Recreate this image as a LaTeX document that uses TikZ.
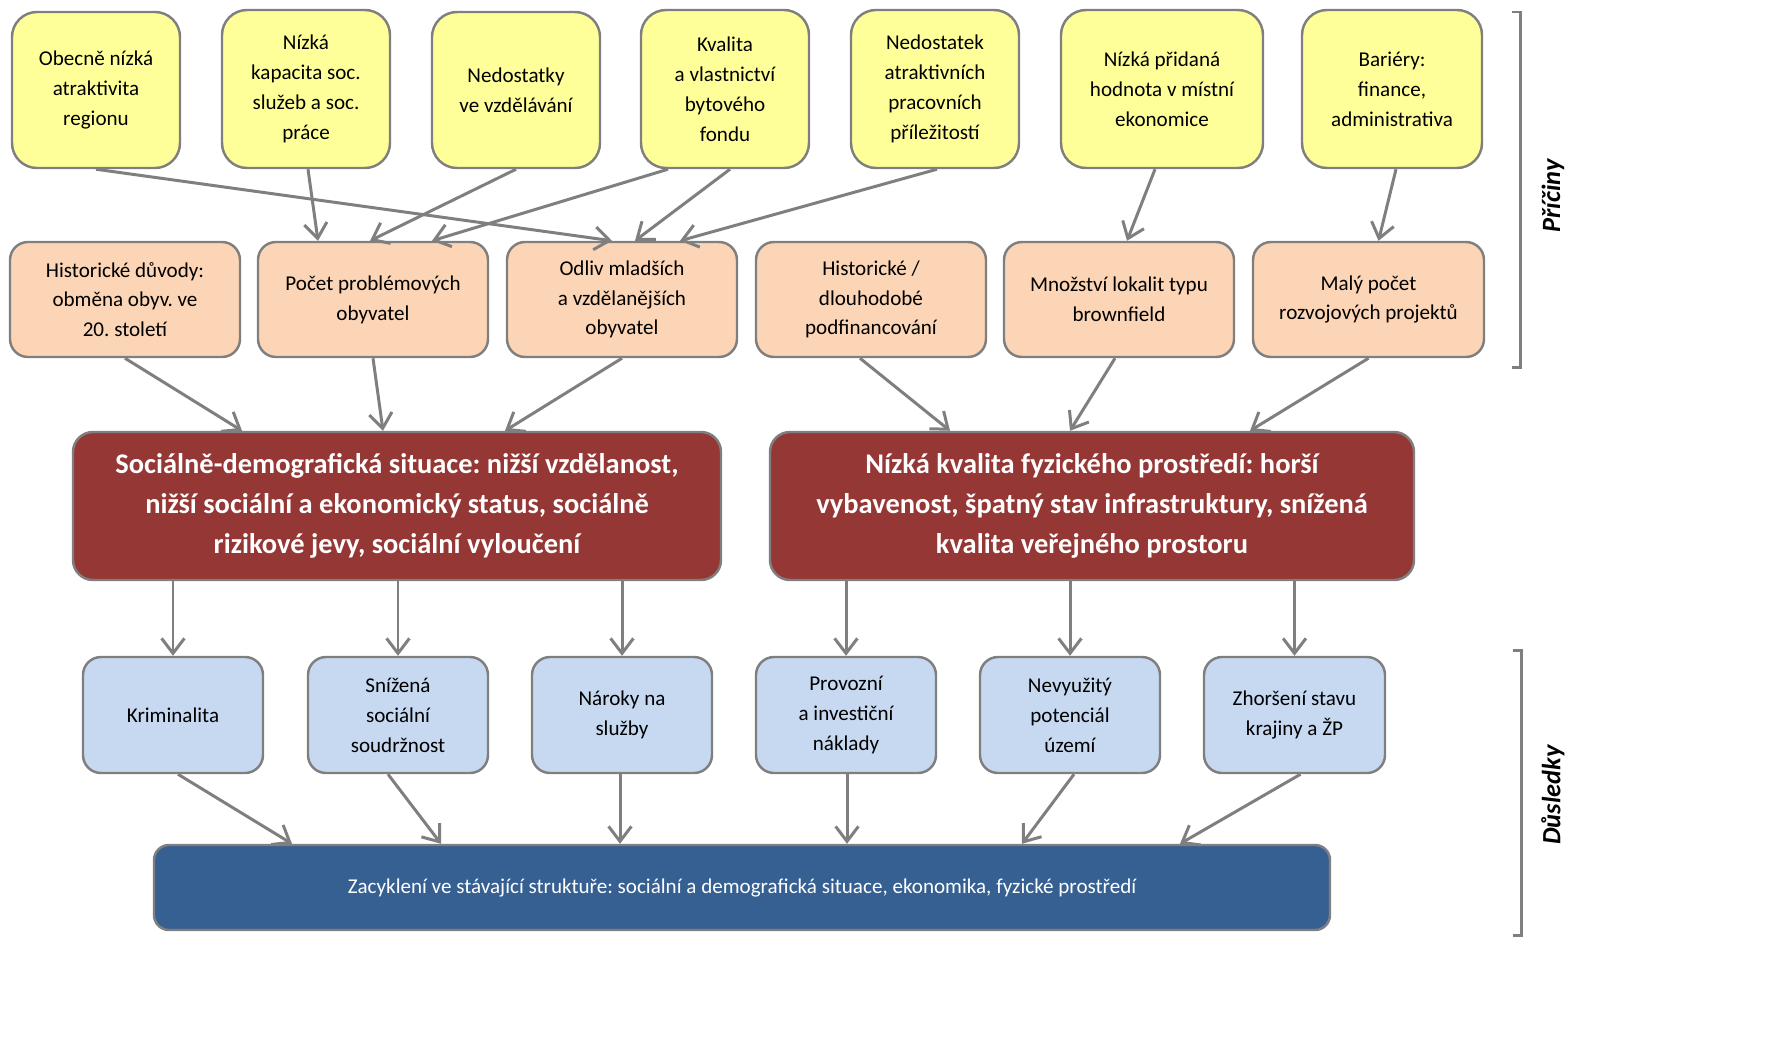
\documentclass[tikz,border=0pt]{standalone}
\usepackage{fontspec}
\setmainfont{Carlito}
\frenchspacing
\usetikzlibrary{arrows.meta,calc}
\definecolor{yel}{HTML}{FFFF99}
\definecolor{ora}{HTML}{FBD5B5}
\definecolor{redb}{HTML}{953735}
\definecolor{lblue}{HTML}{C6D9F1}
\definecolor{dblue}{HTML}{366092}
\definecolor{bord}{HTML}{7F7F7F}
\newcommand\bx[7]{\node[#6, minimum width={(#4-#2)*0.02cm}, minimum height={(#5-#3)*0.02cm}] (#1) at ({(#2+#4)/2},{(#3+#5)/2}) {#7};}
\tikzset{
  basebox/.style={draw=bord, line width=1.4pt, align=center, inner sep=0pt, font={\fontsize{12}{17}\selectfont}},
  ybox/.style={basebox, fill=yel, rounded corners=0.5cm},
  obox/.style={basebox, fill=ora, rounded corners=0.36cm},
  rbox/.style={basebox, fill=redb, rounded corners=0.4cm, text=white, font={\fontsize{16.2}{22.7}\selectfont\bfseries}},
  bbox/.style={basebox, fill=lblue, rounded corners=0.36cm},
  zbox/.style={basebox, fill=dblue, rounded corners=0.3cm, text=white, font={\fontsize{12}{15}\selectfont}},
  ar/.style={draw=bord, line width=1.7pt, -{Straight Barb[length=8.5pt,width=13pt,line width=1.7pt]}},
  brk/.style={draw=bord, line width=1.7pt},
  side/.style={font={\fontsize{15}{17}\selectfont\bfseries\itshape}, rotate=90}
}
\begin{document}
\begin{tikzpicture}[x=0.02cm, y=-0.02cm]
\useasboundingbox (0,0) rectangle (1772,1059);
% yellow
\bx{y1}{12}{12}{180}{168}{ybox}{Obecně nízká\\atraktivita\\regionu}
\bx{y2}{222}{10}{390}{168}{ybox}{Nízká\\kapacita soc.\\služeb a soc.\\práce}
\bx{y3}{432}{12}{600}{168}{ybox}{Nedostatky\\ve vzdělávání}
\bx{y4}{641}{10}{809}{168}{ybox}{Kvalita\\a vlastnictví\\bytového\\fondu}
\bx{y5}{851}{10}{1019}{168}{ybox}{Nedostatek\\atraktivních\\pracovních\\příležitostí}
\bx{y6}{1061}{10}{1263}{168}{ybox}{Nízká přidaná\\hodnota v místní\\ekonomice}
\bx{y7}{1302}{10}{1482}{168}{ybox}{Bariéry:\\finance,\\administrativa}
% orange
\bx{o1}{10}{242}{240}{357}{obox}{Historické důvody:\\obměna obyv. ve\\20. století}
\bx{o2}{258}{242}{488}{357}{obox}{Počet problémových\\obyvatel}
\bx{o3}{507}{242}{737}{357}{obox}{Odliv mladších\\a vzdělanějších\\obyvatel}
\bx{o4}{756}{242}{986}{357}{obox}{Historické /\\dlouhodobé\\podfinancování}
\bx{o5}{1004}{242}{1234}{357}{obox}{Množství lokalit typu\\brownfield}
\bx{o6}{1253}{242}{1484}{357}{obox}{Malý počet\\rozvojových projektů}
% red
\bx{r1}{73}{432}{721}{580}{rbox}{Sociálně-demografická situace: nižší vzdělanost,\\nižší sociální a ekonomický status, sociálně\\rizikové jevy, sociální vyloučení}
\bx{r2}{770}{432}{1414}{580}{rbox}{Nízká kvalita fyzického prostředí: horší\\vybavenost, špatný stav infrastruktury, snížená\\kvalita veřejného prostoru}
% blue
\bx{b1}{83}{657}{263}{773}{bbox}{Kriminalita}
\bx{b2}{308}{657}{488}{773}{bbox}{Snížená\\sociální\\soudržnost}
\bx{b3}{532}{657}{712}{773}{bbox}{Nároky na\\služby}
\bx{b4}{756}{657}{936}{773}{bbox}{Provozní\\a investiční\\náklady}
\bx{b5}{980}{657}{1160}{773}{bbox}{Nevyužitý\\potenciál\\území}
\bx{b6}{1204}{657}{1385}{773}{bbox}{Zhoršení stavu\\krajiny a ŽP}
% bottom
\bx{z}{154}{845}{1330}{930}{zbox}{Zacyklení ve stávající struktuře: sociální a demografická situace, ekonomika, fyzické prostředí}
% arrows yellow -> orange
\draw[ar] (y1.south) -- ($(o3.north)+(-10,0)$);
\draw[ar] ($(y2.south)+(2,0)$) -- ($(o2.north)+(-55,0)$);
\draw[ar] (y3.south) -- ($(o2.north)+(-3,0)$);
\draw[ar] ($(y4.south)+(-57,0)$) -- ($(o2.north)+(59,0)$);
\draw[ar] ($(y4.south)+(5,0)$) -- ($(o3.north)+(13,0)$);
\draw[ar] ($(y5.south)+(2,0)$) -- ($(o3.north)+(58,0)$);
\draw[ar] ($(y6.south)+(-7,0)$) -- ($(o5.north)+(8,0)$);
\draw[ar] ($(y7.south)+(4,0)$) -- ($(o6.north)+(10,0)$);
% orange -> red
\draw[ar] (o1.south) -- ($(r1.north)+(-155,0)$);
\draw[ar] (o2.south) -- ($(r1.north)+(-14,0)$);
\draw[ar] (o3.south) -- ($(r1.north)+(108,0)$);
\draw[ar] ($(o4.south)+(-11,0)$) -- ($(r2.north)+(-142,0)$);
\draw[ar] ($(o5.south)+(-4,0)$) -- ($(r2.north)+(-22,0)$);
\draw[ar] (o6.south) -- ($(r2.north)+(158,0)$);
% red -> blue
\foreach \b in {b1,b2,b3}{\draw[ar] (\b.north |- r1.south) -- (\b.north);}
\foreach \b in {b4,b5,b6}{\draw[ar] (\b.north |- r2.south) -- (\b.north);}
% blue -> bottom
\draw[ar] ($(b1.south)+(5,0)$) -- ($(z.north)+(-450,0)$);
\draw[ar] ($(b2.south)+(-10,0)$) -- ($(z.north)+(-301,0)$);
\draw[ar] ($(b3.south)+(-2,0)$) -- ($(z.north)+(-122,0)$);
\draw[ar] ($(b4.south)+(1,0)$) -- ($(z.north)+(105,0)$);
\draw[ar] ($(b5.south)+(4,0)$) -- ($(z.north)+(280,0)$);
\draw[ar] ($(b6.south)+(6,0)$) -- ($(z.north)+(438,0)$);
% brackets
\coordinate (p1) at (1512,12);
\draw[brk] (p1) -- ++(8,0) -- ++(0,355) -- ++(-8,0);
\node[side] (pr) at (1553,196) {Příčiny};
\coordinate (d1) at (1513,650);
\draw[brk] (d1) -- ++(8,0) -- ++(0,285) -- ++(-8,0);
\node[side] (du) at (1553,795) {Důsledky};
\end{tikzpicture}
\end{document}
